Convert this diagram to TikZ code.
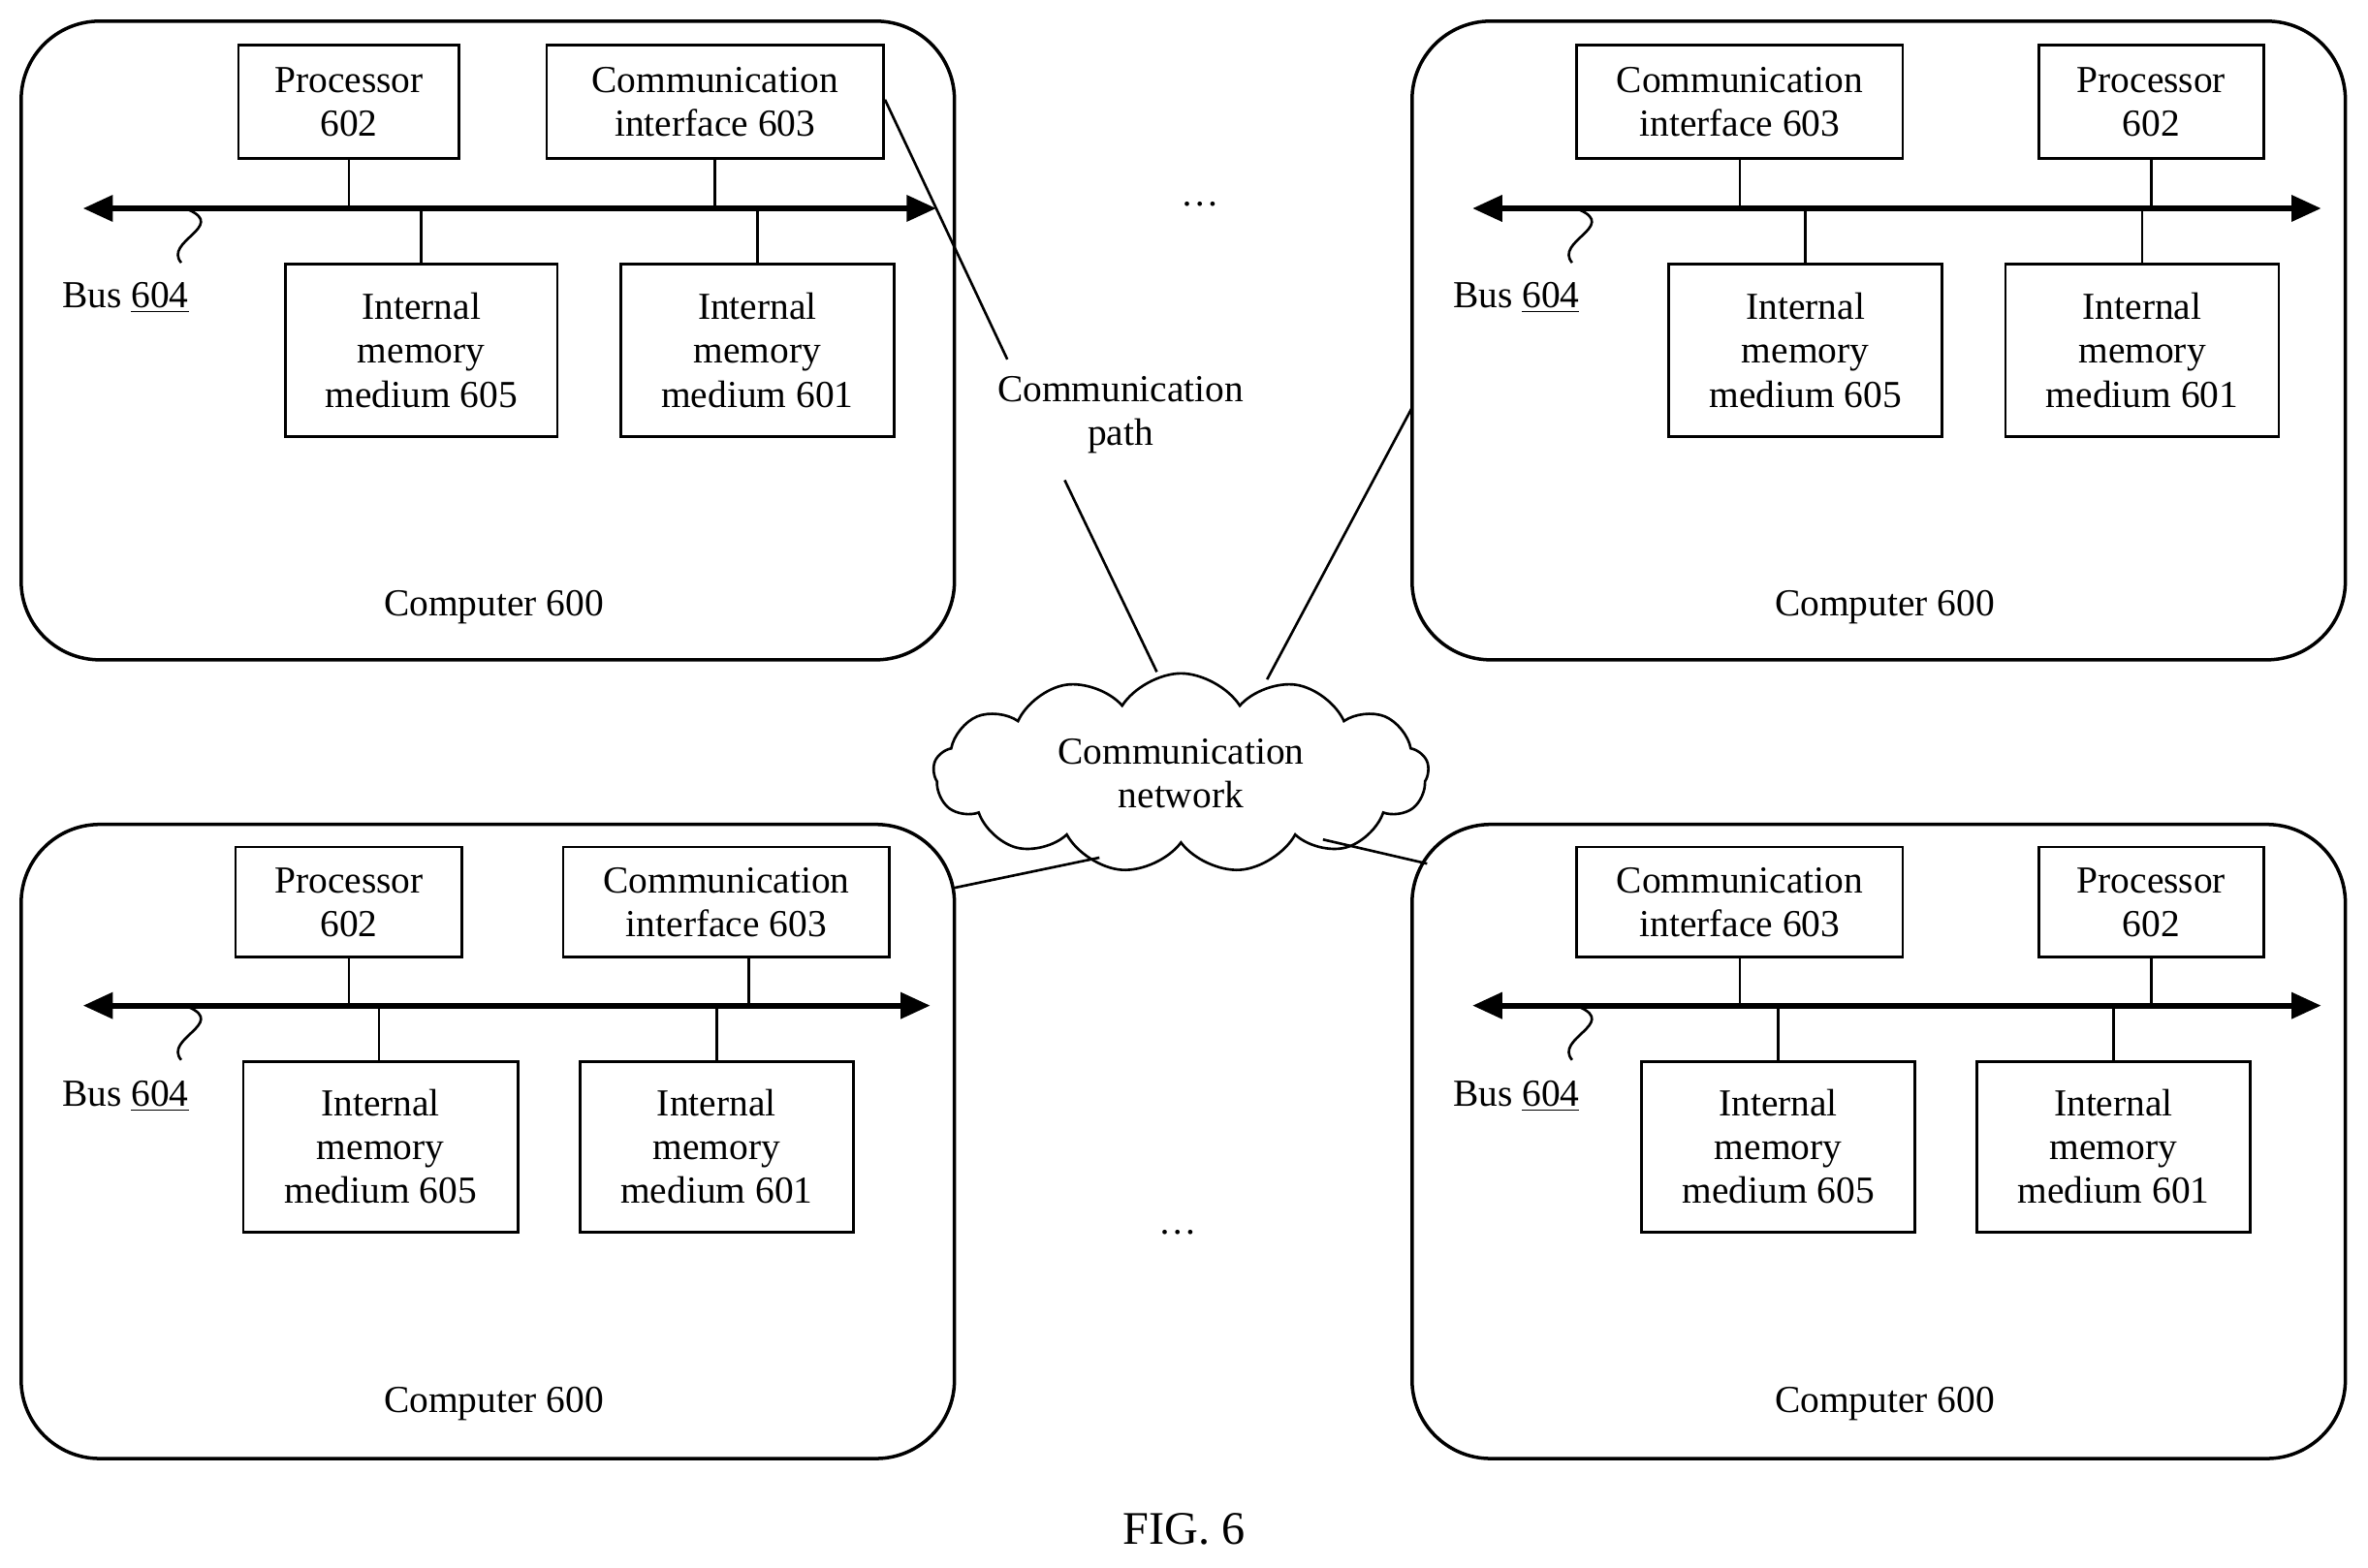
\documentclass[tikz,border=0pt]{standalone}
\usepackage{fontspec}
\setmainfont{Liberation Serif}
\usetikzlibrary{shapes.symbols,arrows.meta}
\tikzset{
  unit/.style={draw, line width=1.2pt, align=center, inner sep=0pt},
  pc/.style={draw, line width=1.6pt, rounded corners=1.3cm},
  bus/.style={line width=2.6pt, {Triangle[length=14pt,width=12pt]}-{Triangle[length=14pt,width=12pt]}},
  wire/.style={line width=1.2pt},
}
% box from (x1,y1) to (x2,y2) in pixel units
\newcommand{\unitbox}[6]{%
  \node[unit, minimum width=(#4-#2)*0.025cm, minimum height=(#5-#3)*0.025cm]
    (#1) at ({(#2+#4)/2},{(#3+#5)/2}) {#6};}
\begin{document}
\begin{tikzpicture}[x=0.025cm, y=-0.025cm, font=\fontsize{18}{20.6}\selectfont]
    \useasboundingbox (0,0) rectangle (1568,1038);

    %Computer top left
        \draw[pc] (14,14) rectangle (632,437);
        \unitbox{procA}{158}{30}{304}{105}{Processor\\602}
        \unitbox{ciA}{362}{30}{585}{105}{Communication\\interface 603}
        \unitbox{memAa}{189}{175}{369}{289}{Internal\\memory\\medium 605}
        \unitbox{memAb}{411}{175}{592}{289}{Internal\\memory\\medium 601}
        \coordinate (busA) at (0,138);
        \draw[bus] (55,138) -- (620,138);
        \foreach \n in {procA,ciA,memAa,memAb}
            \draw[wire] (\n) -- (\n |- busA);
        \draw[wire] (125,139) .. controls (150,150) and (108,160) .. (120,174);
        \node (busLblA) at (83,197) {Bus \underline{604}};
        \node (pcA) at (327,402) {Computer 600};

    %Computer top right
        \draw[pc] (935,14) rectangle (1553,437);
        \unitbox{ciB}{1044}{30}{1260}{105}{Communication\\interface 603}
        \unitbox{procB}{1350}{30}{1499}{105}{Processor\\602}
        \unitbox{memBa}{1105}{175}{1286}{289}{Internal\\memory\\medium 605}
        \unitbox{memBb}{1328}{175}{1509}{289}{Internal\\memory\\medium 601}
        \coordinate (busB) at (0,138);
        \draw[bus] (975,138) -- (1537,138);
        \foreach \n in {procB,ciB,memBa,memBb}
            \draw[wire] (\n) -- (\n |- busB);
        \draw[wire] (1046,139) .. controls (1071,150) and (1029,160) .. (1041,174);
        \node (busLblB) at (1004,197) {Bus \underline{604}};
        \node (pcB) at (1248,402) {Computer 600};

    %Computer bottom left
        \draw[pc] (14,546) rectangle (632,966);
        \unitbox{procC}{156}{561}{306}{634}{Processor\\602}
        \unitbox{ciC}{373}{561}{589}{634}{Communication\\interface 603}
        \unitbox{memCa}{161}{703}{343}{816}{Internal\\memory\\medium 605}
        \unitbox{memCb}{384}{703}{565}{816}{Internal\\memory\\medium 601}
        \coordinate (busC) at (0,666);
        \draw[bus] (55,666) -- (616,666);
        \draw[wire] (procC) -- (procC |- busC);
        \draw[wire] (496,634) -- (496,666);
        \draw[wire] (251,703) -- (251,666);
        \draw[wire] (memCb) -- (memCb |- busC);
        \draw[wire] (125,667) .. controls (150,678) and (108,688) .. (120,702);
        \node (busLblC) at (83,726) {Bus \underline{604}};
        \node (pcC) at (327,930) {Computer 600};

    %Computer bottom right
        \draw[pc] (935,546) rectangle (1553,966);
        \unitbox{ciD}{1044}{561}{1260}{634}{Communication\\interface 603}
        \unitbox{procD}{1350}{561}{1499}{634}{Processor\\602}
        \unitbox{memDa}{1087}{703}{1268}{816}{Internal\\memory\\medium 605}
        \unitbox{memDb}{1309}{703}{1490}{816}{Internal\\memory\\medium 601}
        \coordinate (busD) at (0,666);
        \draw[bus] (975,666) -- (1537,666);
        \foreach \n in {procD,ciD,memDa,memDb}
            \draw[wire] (\n) -- (\n |- busD);
        \draw[wire] (1046,667) .. controls (1071,678) and (1029,688) .. (1041,702);
        \node (busLblD) at (1004,726) {Bus \underline{604}};
        \node (pcD) at (1248,930) {Computer 600};

    %Network
        \node[cloud, draw, line width=1.2pt, cloud puffs=13, cloud puff arc=115,
              aspect=2.4, minimum width=8.2cm, minimum height=3.3cm, align=center, inner sep=0pt]
            (net) at (782,512) {Communication\\network};
        \node[align=center] (path) at (742,275) {Communication\\path};
        \coordinate (ciAout) at (586,66);
        \coordinate (pathTop) at (667,238);
        \coordinate (pathBot) at (705,318);
        \coordinate (netA) at (766,445);
        \coordinate (pcBin) at (935,270);
        \coordinate (netB) at (839,450);
        \coordinate (pcCin) at (632,588);
        \coordinate (netC) at (728,568);
        \coordinate (netD) at (876,556);
        \coordinate (pcDin) at (945,572);
        \draw[wire] (ciAout) -- (pathTop);
        \draw[wire] (pathBot) -- (netA);
        \draw[wire] (pcBin) -- (netB);
        \draw[wire] (pcCin) -- (netC);
        \draw[wire] (netD) -- (pcDin);

        \node (dotsA) at (795,135) {\dots};
        \node (dotsB) at (780,816) {\dots};
        \node[font=\fontsize{22}{24}\selectfont] (fig) at (784,1013) {FIG. 6};
\end{tikzpicture}
\end{document}
